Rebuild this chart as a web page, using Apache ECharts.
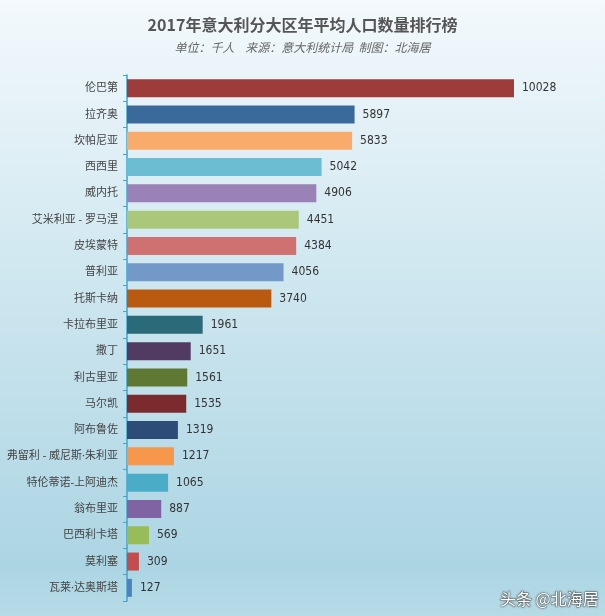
<!DOCTYPE html>
<html><head><meta charset="utf-8">
<script src="https://cdn.jsdelivr.net/npm/echarts@6/dist/echarts.min.js"></script>
<style>html,body{margin:0;padding:0;}#c{width:605px;height:616px;}</style>
</head><body><div id="c"></div>
<script>
var regions = ['伦巴第','拉齐奥','坎帕尼亚','西西里','威内托','艾米利亚 - 罗马涅','皮埃蒙特','普利亚','托斯卡纳','卡拉布里亚','撒丁','利古里亚','马尔凯','阿布鲁佐','弗留利 - 威尼斯·朱利亚','特伦蒂诺-上阿迪杰','翁布里亚','巴西利卡塔','莫利塞','瓦莱·达奥斯塔'];
var population = [10028,5897,5833,5042,4906,4451,4384,4056,3740,1961,1651,1561,1535,1319,1217,1065,887,569,309,127];
var colors = ['#9e3c3c','#3a6a9c','#f8ab6b','#6cbdd1','#9a82b6','#aac77a','#d07171','#7399c9','#b95a10','#2b6a78','#523b63','#5f7834','#7b2a2d','#2d4c78','#f7974c','#4bacc7','#7f63a3','#99bc5a','#c34d4d','#4f81bd'];

var chart = echarts.init(document.getElementById('c'));
chart.setOption({
  backgroundColor: new echarts.graphic.LinearGradient(0,0,0,1,[
    {offset:0,color:'#f3f9fc'},{offset:0.5,color:'#cbe5ee'},{offset:0.92,color:'#acd5e3'},{offset:1,color:'#b6dbe7'}]),
  title: {
    text: '2017年意大利分大区年平均人口数量排行榜',
    subtext: '单位：千人    来源：意大利统计局  制图：北海居',
    left: 'center', top: 12, itemGap: 8,
    textStyle: {fontSize: 16, fontWeight: 'bold', color: '#555', fontFamily: 'Noto Sans CJK SC'},
    subtextStyle: {fontSize: 12, fontStyle: 'italic', color: '#666', fontFamily: 'Noto Sans CJK SC'}
  },
  grid: {left: 127, right: 91, top: 75, bottom: 15, containLabel: false, outerBoundsMode: 'none'},
  xAxis: {type: 'value', min: 0, max: 10028, show: false},
  yAxis: {
    type: 'category', data: regions, inverse: true,
    axisLine: {lineStyle: {color: '#3fa6cf', width: 1.5}},
    axisTick: {show: true, length: 4, lineStyle: {color: '#3fa6cf'}},
    axisLabel: {color: '#444', fontSize: 11, margin: 9, fontFamily: '"Noto Sans", "Noto Sans CJK SC"'}
  },
  series: [{
    type: 'bar', data: population, barWidth: 18,
    itemStyle: {color: function(p){return colors[p.dataIndex];}},
    label: {show: true, position: 'right', distance: 8, color: '#333', fontSize: 12, fontFamily: 'DejaVu Sans Condensed'}
  }],
  graphic: [{
    type: 'text', right: 6, bottom: 9,
    style: {text: '头条 @北海居', fill: '#fff', fontSize: 16, fontFamily: 'Noto Sans CJK SC',
      stroke: '#666', lineWidth: 0.6, textShadowColor: 'rgba(0,0,0,0.5)', textShadowBlur: 2}
  }]
});
</script></body></html>
